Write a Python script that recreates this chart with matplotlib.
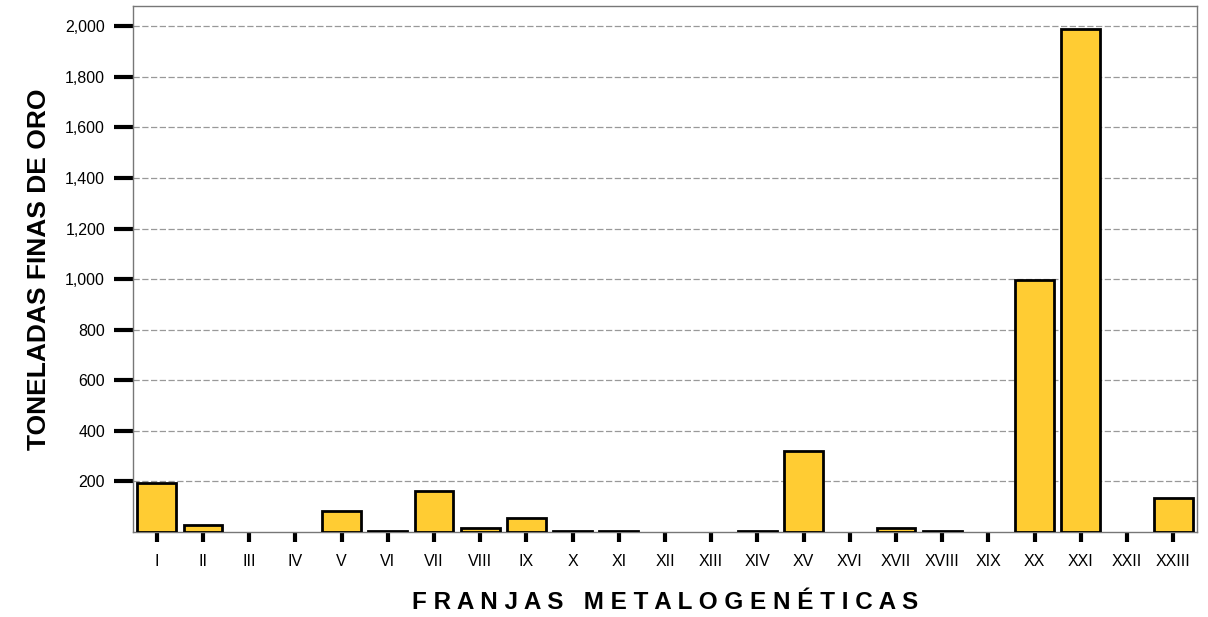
import matplotlib.pyplot as plt
from matplotlib.ticker import FuncFormatter

franjas = ['I', 'II', 'III', 'IV', 'V', 'VI', 'VII', 'VIII', 'IX', 'X', 'XI', 'XII',
           'XIII', 'XIV', 'XV', 'XVI', 'XVII', 'XVIII', 'XIX', 'XX', 'XXI', 'XXII', 'XXIII']
toneladas = [195, 28, 0, 0, 82, 4, 162, 14, 56, 3, 3, 0,
             0, 3, 318, 0, 14, 3, 0, 998, 1988, 0, 133]
yticks = [200, 400, 600, 800, 1000, 1200, 1400, 1600, 1800, 2000]

plt.rcParams['font.family'] = 'Liberation Sans'

fig = plt.figure(figsize=(12.08, 6.17), dpi=100)
ax = fig.add_axes([0.110, 0.138, 0.881, 0.852])

# sin barra para franjas sin produccion
xs = [i for i, v in enumerate(toneladas) if v > 0]
vs = [v for v in toneladas if v > 0]
ax.bar(xs, vs, width=0.84, color='#FFCC33', edgecolor='black', linewidth=2, zorder=3)

ax.set_xlim(-0.52, len(franjas) - 0.48)
ax.set_ylim(0, 2080)
ax.set_yticks(yticks)
ax.yaxis.set_major_formatter(FuncFormatter(lambda v, p: f'{int(v):,}'))
ax.set_xticks(range(len(franjas)))
ax.set_xticklabels(franjas)

ax.grid(axis='y', color='#999999', linestyle=(0, (5, 2)), linewidth=0.9, zorder=0)
for s in ax.spines.values():
    s.set_color('#777777')
    s.set_linewidth(1)

ax.tick_params(axis='y', length=14, width=3, color='black', labelsize=11.5, pad=6)
ax.tick_params(axis='x', length=7, width=3, color='black', labelsize=11.5, pad=9)

ax.set_ylabel('TONELADAS FINAS DE ORO', fontsize=19, fontweight='bold', labelpad=10)
ax.set_xlabel(' '.join('FRANJAS') + '   ' + ' '.join('METALOGENÉTICAS'),
              fontsize=17.5, fontweight='bold', labelpad=16)

fig.savefig('out.png', dpi=100)
